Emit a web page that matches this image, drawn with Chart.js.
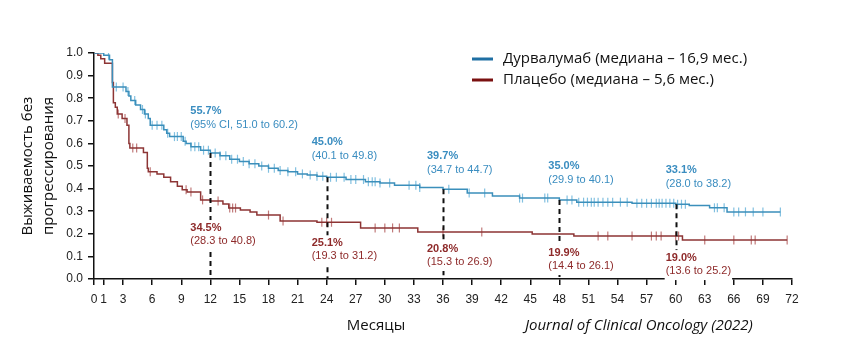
<!DOCTYPE html>
<html>
<head>
<meta charset="utf-8">
<script src="https://cdn.jsdelivr.net/npm/chart.js@4.4.0/dist/chart.umd.min.js"></script>
<style>
  html, body { margin: 0; padding: 0; background: #fff; }
  #wrap { width: 843px; height: 362px; }
</style>
</head>
<body>
<div id="wrap"><canvas id="km" width="843" height="362"></canvas></div>
<script>
// Kaplan-Meier curves (month, survival after the step)
var durvaT = [0, 1.0, 1.6, 1.9, 3.3, 3.6, 3.8, 4.3, 4.8, 5.2, 5.6, 5.8, 7.2, 7.5, 7.8, 9.2, 9.5, 10.0, 11.0, 12.0, 13.0, 14.0, 15.0, 16.0, 17.0, 18.0, 19.0, 20.0, 21.0, 22.0, 23.0, 24.0, 26.0, 28.0, 29.5, 31.0, 33.6, 36.0, 38.5, 41.1, 43.9, 48.0, 49.8, 55.5, 60.0, 61.4, 63.5, 65.3, 70.8];
var durvaS = [1.0, 0.99, 0.97, 0.85, 0.83, 0.81, 0.79, 0.77, 0.75, 0.73, 0.71, 0.68, 0.66, 0.645, 0.63, 0.61, 0.60, 0.585, 0.57, 0.557, 0.545, 0.53, 0.52, 0.51, 0.50, 0.49, 0.48, 0.475, 0.465, 0.46, 0.455, 0.45, 0.44, 0.43, 0.425, 0.415, 0.405, 0.397, 0.38, 0.367, 0.358, 0.35, 0.34, 0.335, 0.331, 0.325, 0.315, 0.297, 0.297];
var placT = [0, 0.4, 0.7, 1.1, 1.9, 2.0, 2.2, 2.4, 2.9, 3.4, 3.6, 3.7, 5.1, 5.5, 5.6, 6.5, 7.2, 7.9, 8.6, 9.1, 9.6, 11.0, 12.0, 13.3, 13.9, 15.1, 16.1, 16.8, 19.2, 23.0, 27.5, 33.4, 45.2, 49.5, 60.7, 71.5];
var placS = [1.0, 0.99, 0.975, 0.955, 0.87, 0.78, 0.76, 0.73, 0.71, 0.68, 0.60, 0.58, 0.56, 0.49, 0.475, 0.465, 0.45, 0.43, 0.41, 0.395, 0.385, 0.35, 0.345, 0.332, 0.314, 0.305, 0.297, 0.283, 0.257, 0.251, 0.226, 0.208, 0.199, 0.19, 0.173, 0.173];

// censored patients (months)
var durvaCens = [1.5, 2.3, 3.0, 3.5, 4.2, 5.0, 5.3, 6.0, 6.5, 7.0, 7.6, 8.3, 8.6, 9.0, 9.4, 10.0, 10.4, 10.8, 11.3, 11.8, 12.5, 13.0, 13.6, 14.2, 14.8, 15.4, 16.0, 16.6, 17.3, 18.0, 18.6, 19.2, 20.0, 20.8, 21.5, 22.3, 23.0, 23.6, 24.4, 25.0, 25.8, 26.5, 27.0, 27.8, 28.3, 28.7, 29.0, 29.5, 30.5, 32.5, 33.2, 33.6, 36.6, 38.7, 40.3, 43.9, 44.2, 46.5, 46.8, 48.8, 49.3, 50.0, 50.5, 50.9, 51.3, 51.6, 52.0, 52.5, 53.0, 53.5, 54.3, 55.0, 56.0, 56.5, 57.0, 57.5, 58.0, 58.3, 58.6, 59.0, 59.4, 59.8, 60.2, 60.6, 61.0, 64.0, 64.3, 65.0, 66.0, 66.5, 67.2, 68.0, 69.0, 70.8];
var placCens = [2.5, 3.2, 4.0, 4.4, 5.8, 9.5, 10.0, 11.2, 12.8, 14.0, 14.3, 14.6, 18.0, 19.5, 23.5, 24.0, 24.5, 29.0, 30.0, 30.8, 31.5, 36.0, 40.0, 52.0, 53.0, 55.5, 57.5, 58.0, 58.5, 60.0, 60.3, 63.0, 66.0, 67.8, 68.2, 71.5];

var xTicks = [0, 1, 3, 6, 9, 12, 15, 18, 21, 24, 27, 30, 33, 36, 39, 42, 45, 48, 51, 54, 57, 60, 63, 66, 69, 72];

// landmark estimates
var landmarks = [12, 24, 36, 48, 60];
var durvaPct = ['55.7%', '45.0%', '39.7%', '35.0%', '33.1%'];
var durvaCI = ['(95% CI, 51.0 to 60.2)', '(40.1 to 49.8)', '(34.7 to 44.7)', '(29.9 to 40.1)', '(28.0 to 38.2)'];
var placPct = ['34.5%', '25.1%', '20.8%', '19.9%', '19.0%'];
var placCI = ['(28.3 to 40.8)', '(19.3 to 31.2)', '(15.3 to 26.9)', '(14.4 to 26.1)', '(13.6 to 25.2)'];

var legendLabels = ['Дурвалумаб (медиана – 16,9 мес.)', 'Плацебо (медиана – 5,6 мес.)'];

// label placement (pixels, relative to landmark point)
var labelDx = [-20, -15, -16, -11, -10];
var durvaDy = [-42, -35, -33, -34, -34];
var placDy = [27, 21, 17, 19, 22];

var BLUE = '#3b8fbb', BLUE_LIGHT = '#82c0e0', BLUE_TXT = '#3a8dc0';
var RED = '#8d3535', RED_LIGHT = '#c07a7a', RED_TXT = '#8e2a2a';

function pts(t, s) {
  var out = [];
  for (var i = 0; i < t.length; i++) out.push({x: t[i], y: s[i]});
  return out;
}
function valueAt(t, s, m) {
  var v = s[0];
  for (var i = 0; i < t.length; i++) { if (t[i] <= m) v = s[i]; }
  return v;
}
function censPts(c, t, s) {
  return c.map(function(m) { return {x: m, y: valueAt(t, s, m)}; });
}

var FONT = '"Liberation Sans", Arial, sans-serif';
var TFONT = '"Open Sans", "Noto Sans", sans-serif';

var overlay = {
  id: 'overlay',
  afterDatasetsDraw: function(chart) {
    var c = chart.ctx, xs = chart.scales.x, ys = chart.scales.y;
    c.save();
    // dashed landmark lines
    c.strokeStyle = '#111';
    c.lineWidth = 2;
    c.setLineDash([5, 4]);
    landmarks.forEach(function(m, i) {
      var x = Math.round(xs.getPixelForValue(m)) + 0.5;
      c.beginPath();
      c.moveTo(x, ys.getPixelForValue(parseFloat(durvaPct[i]) / 100));
      c.lineTo(x, ys.getPixelForValue(0));
      c.stroke();
    });
    c.setLineDash([]);
    c.textBaseline = 'middle';
    c.textAlign = 'left';
    landmarks.forEach(function(m, i) {
      var x = xs.getPixelForValue(m) + labelDx[i];
      var yb = ys.getPixelForValue(parseFloat(durvaPct[i]) / 100) + durvaDy[i];
      c.fillStyle = BLUE_TXT;
      c.font = 'bold 11px ' + FONT;
      c.fillText(durvaPct[i], x, yb);
      c.font = '11px ' + FONT;
      c.fillText(durvaCI[i], x, yb + 14);

      var yr = ys.getPixelForValue(parseFloat(placPct[i]) / 100) + placDy[i];
      c.font = '11px ' + FONT;
      var w = c.measureText(placCI[i]).width;
      c.fillStyle = '#fff';
      c.fillRect(x - 1, yr - 8, w + 2, 30);
      c.fillStyle = RED_TXT;
      c.font = 'bold 11px ' + FONT;
      c.fillText(placPct[i], x, yr);
      c.font = '11px ' + FONT;
      c.fillText(placCI[i], x, yr + 13);
    });
    // legend
    var colors = ['#1f6fa3', '#7a1010'];
    legendLabels.forEach(function(txt, i) {
      var y = 59 + i * 21;
      c.strokeStyle = colors[i];
      c.lineWidth = 3;
      c.beginPath();
      c.moveTo(472, y);
      c.lineTo(493, y);
      c.stroke();
      c.fillStyle = '#111';
      c.font = '15px ' + TFONT;
      c.fillText(txt, 503, y);
    });
    // axis caption and source
    c.fillStyle = '#111';
    c.font = '15px ' + TFONT;
    c.textAlign = 'center';
    c.fillText('Месяцы', 376, 326);
    c.font = 'italic 15px ' + TFONT;
    c.textAlign = 'left';
    c.fillText('Journal of Clinical Oncology (2022)', 525, 326);
    c.restore();
  }
};

var ctx = document.getElementById('km').getContext('2d');
var chart = new Chart(ctx, {
  type: 'line',
  data: {
    datasets: [
      { label: 'durva', data: pts(durvaT, durvaS), stepped: true, borderColor: BLUE, borderWidth: 1.5, pointRadius: 0, fill: false },
      { label: 'plac', data: pts(placT, placS), stepped: true, borderColor: RED, borderWidth: 1.5, pointRadius: 0, fill: false },
      { label: 'durvaCens', data: censPts(durvaCens, durvaT, durvaS), showLine: false, pointStyle: 'line', rotation: 90, pointRadius: 4.5, borderColor: BLUE_LIGHT, borderWidth: 1.2 },
      { label: 'placCens', data: censPts(placCens, placT, placS), showLine: false, pointStyle: 'line', rotation: 90, pointRadius: 4.5, borderColor: RED_LIGHT, borderWidth: 1.2 }
    ]
  },
  options: {
    responsive: false,
    animation: false,
    events: [],
    layout: { padding: { top: 53, right: 51, bottom: 0, left: 17 } },
    plugins: { legend: { display: false }, tooltip: { enabled: false } },
    scales: {
      x: {
        type: 'linear', min: 0, max: 72,
        afterBuildTicks: function(s) { s.ticks = xTicks.map(function(v) { return {value: v}; }); },
        afterFit: function(s) { s.height = 83; },
        grid: { display: true, drawOnChartArea: false, drawTicks: true, tickLength: 6, color: '#111', lineWidth: 1.5 },
        border: { color: '#111', width: 1.5 },
        ticks: { autoSkip: false, maxRotation: 0, padding: 7, color: '#222', font: { family: FONT, size: 12 } }
      },
      y: {
        min: 0, max: 1,
        afterFit: function(s) { s.width = 77; },
        grid: { display: true, drawOnChartArea: false, drawTicks: true, tickLength: 6, color: '#111', lineWidth: 1.5 },
        border: { color: '#111', width: 1.5 },
        ticks: { stepSize: 0.1, padding: 5, color: '#222', font: { family: FONT, size: 12 },
          callback: function(v) { return v.toFixed(1); } },
        title: { display: true, text: ['Выживаемость без', 'прогрессирования'], color: '#111',
          font: { family: TFONT, size: 15, lineHeight: 1.4 }, padding: { top: 0, bottom: 2 } }
      }
    }
  },
  plugins: [overlay]
});
</script>
</body>
</html>
